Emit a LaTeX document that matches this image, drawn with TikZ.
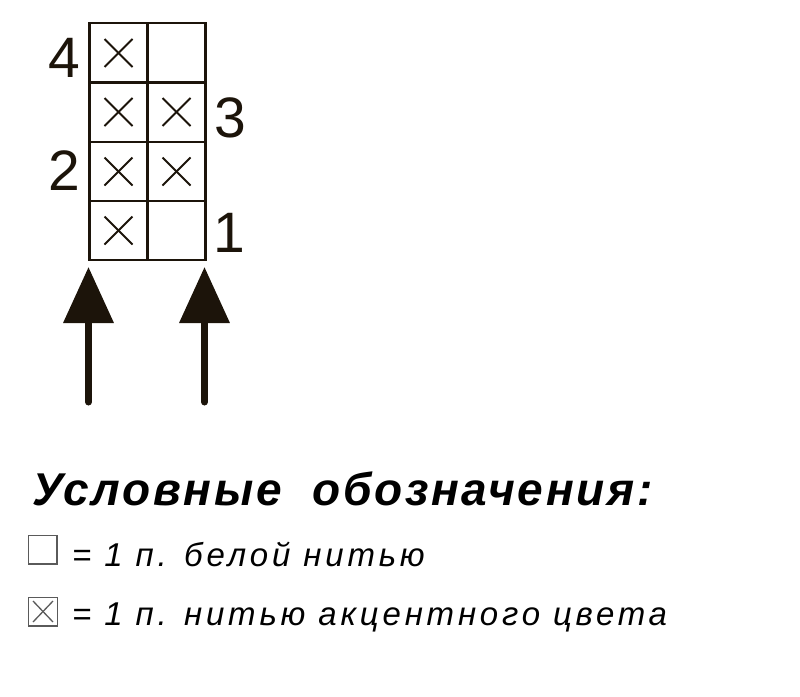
\documentclass[tikz,border=0pt]{standalone}
\usepackage{fontspec}
\setmainfont{Liberation Sans}
\newfontfamily\legendfont{Liberation Sans}[LetterSpace=11.5]
\newfontfamily\titlefont{Liberation Sans}[LetterSpace=5.8]
\usetikzlibrary{arrows.meta}
\definecolor{ink}{RGB}{28,20,10}
\definecolor{legendgray}{RGB}{90,90,90}
\tikzset{
  gridline/.style={draw=ink, line width=2.6pt},
  crossline/.style={draw=ink, line width=1.8pt},
  numlabel/.style={inner sep=0pt, anchor=base, text=ink, font=\fontsize{57}{60}\selectfont},
  bigarrow/.style={draw=ink, line width=7pt, line cap=round, -{Triangle[width=49pt,length=56pt]}},
  titletext/.style={inner sep=0pt, anchor=base west, font=\fontsize{46}{48}\selectfont\titlefont\bfseries\itshape},
  legendtext/.style={inner sep=0pt, anchor=base west, font=\fontsize{33}{35}\selectfont\legendfont\itshape},
  legendbox/.style={draw=legendgray, line width=1.5pt},
}
\newcommand{\cellcross}[2]{%
  \draw[crossline] (#1-14,#2-14) -- (#1+14,#2+14);
  \draw[crossline] (#1-14,#2+14) -- (#1+14,#2-14);
}
\begin{document}
\begin{tikzpicture}[x=1pt,y=-1pt]
\useasboundingbox (0,0) rectangle (800,696);
% grid
\draw[gridline] (89.5,23) rectangle (205.5,260);
\draw[gridline] (147.5,23) -- (147.5,260);
\draw[gridline] (89.5,82.5) -- (205.5,82.5);
\draw[gridline] (89.5,142) -- (205.5,142);
\draw[gridline] (89.5,201) -- (205.5,201);
% crosses
\cellcross{118.5}{53}
\cellcross{118.5}{112}
\cellcross{176.5}{112}
\cellcross{118.5}{171.5}
\cellcross{176.5}{171.5}
\cellcross{118.5}{230.5}
% row numbers
\node[numlabel] (n4) at (64,77) {4};
\node[numlabel] (n3) at (230,137) {3};
\node[numlabel] (n2) at (64,190) {2};
\node[numlabel] (n1) at (229,252) {1};
% arrows
\coordinate (a1s) at (88.5,402);
\coordinate (a1e) at (88.5,267);
\coordinate (a2s) at (204.5,402);
\coordinate (a2e) at (204.5,267);
\draw[bigarrow] (a1s) -- (a1e);
\draw[bigarrow] (a2s) -- (a2e);
% legend
\node[titletext] (title) at (32,505) {Условные\ \ обозначения:};
\draw[legendbox] (28.5,535.5) rectangle (57,564);
\node[legendtext] (l1) at (72,566) {= 1 п. белой нитью};
\draw[legendbox] (28.5,597.5) rectangle (57.5,626);
\draw[legendgray, line width=1.3pt] (33,601) -- (53,622);
\draw[legendgray, line width=1.3pt] (33,622) -- (53,601);
\node[legendtext] (l2) at (72,625) {= 1 п. нитью акцентного цвета};
\end{tikzpicture}
\end{document}
